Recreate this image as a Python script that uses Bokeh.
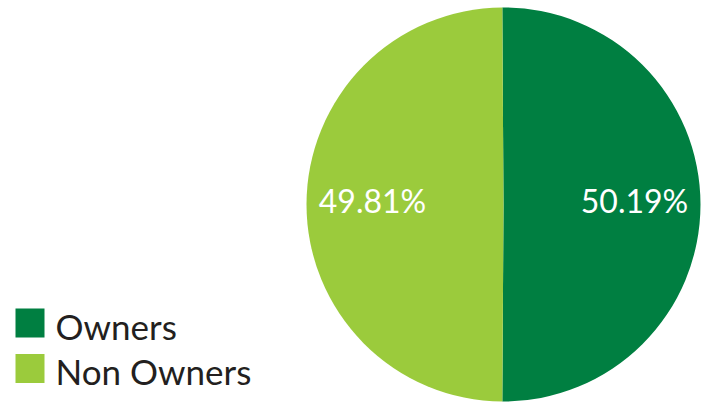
import math
from bokeh.plotting import figure
from bokeh.models import Range1d, ColumnDataSource
from bokeh.core.properties import value
from bokeh.embed import file_html
from bokeh.resources import INLINE

categories = ["Owners", "Non Owners"]
shares = [50.19, 49.81]
colors = ["#007F41", "#9BCB3C"]

W, H = 705, 409
p = figure(width=W, height=H, x_range=Range1d(0, W), y_range=Range1d(0, H),
           output_backend="svg", toolbar_location=None, min_border=0)
p.axis.visible = False
p.grid.visible = False
p.outline_line_color = None
p.background_fill_color = "white"
p.border_fill_color = "white"

cx, cy, r = 503, 205, 197
total = sum(shares)
starts, ends, lx, ly, labels = [], [], [], [], []
# center the first slice on the right-hand side
a = 2 * math.pi * shares[0] / total / 2
for s in shares:
    span = 2 * math.pi * s / total
    starts.append(a)
    ends.append(a - span)
    mid = a - span / 2
    lx.append(cx + 0.665 * r * math.cos(mid))
    ly.append(cy + 4 + 0.665 * r * math.sin(mid))
    labels.append(f"{s:.2f}%")
    a -= span

src = ColumnDataSource(dict(start=starts, end=ends, color=colors, cat=categories,
                            lx=lx, ly=ly, label=labels))
p.wedge(x=cx, y=cy, radius=r, start_angle="start", end_angle="end", direction="clock",
        fill_color="color", line_color=None, source=src)
p.text(x="lx", y="ly", text="label", source=src, text_color="white",
       text_font=value("Lato"), text_font_size="32px", text_align="center",
       text_baseline="alphabetic")

# legend
pitch = 45.5
leg = ColumnDataSource(dict(
    rx=[29.5] * len(categories),
    ry=[86.5 - i * pitch for i in range(len(categories))],
    tx=[55] * len(categories),
    ty=[84 - i * pitch for i in range(len(categories))],
    cat=categories, color=colors))
p.rect(x="rx", y="ry", width=29, height=29, fill_color="color", line_color=None, source=leg)
p.text(x="tx", y="ty", text="cat", source=leg, text_color="#231F20",
       text_font=value("Lato"), text_font_size="35px", text_align="left",
       text_baseline="alphabetic")

open("out.html", "w").write(file_html(p, INLINE))
